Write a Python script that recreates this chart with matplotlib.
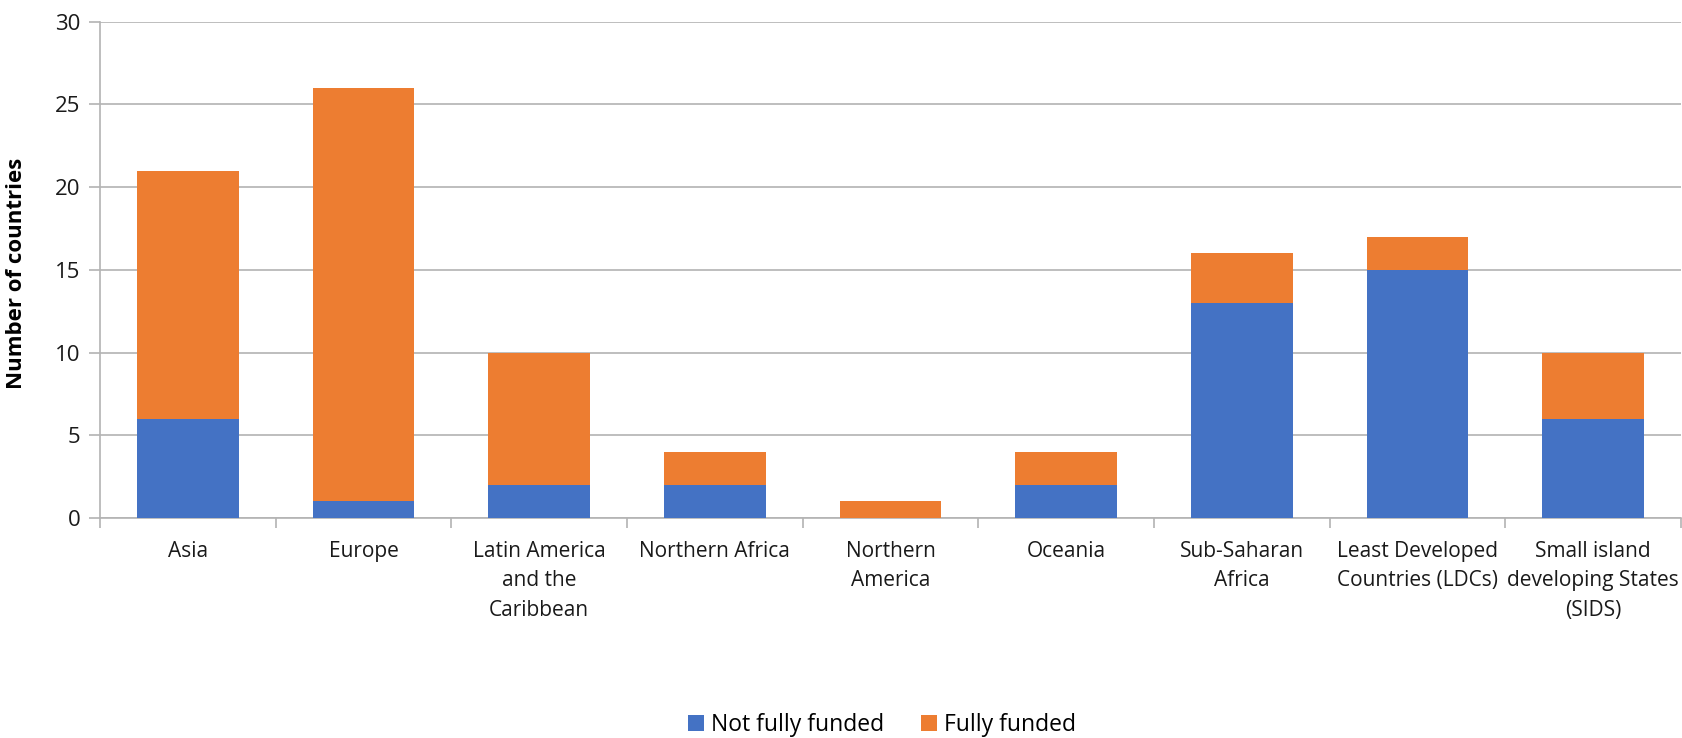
import matplotlib
matplotlib.use("Agg")
import matplotlib.pyplot as plt
import numpy as np

categories = ["Asia", "Europe", "Latin America\nand the\nCaribbean", "Northern Africa",
              "Northern\nAmerica", "Oceania", "Sub-Saharan\nAfrica",
              "Least Developed\nCountries (LDCs)", "Small island\ndeveloping States\n(SIDS)"]
not_fully_funded = [6, 1, 2, 2, 0, 2, 13, 15, 6]
fully_funded = [15, 25, 8, 2, 1, 2, 3, 2, 4]
yticks = [0, 5, 10, 15, 20, 25, 30]

plt.rcParams['font.family'] = ['Open Sans', 'DejaVu Sans']

W, H = 1683, 738
fig = plt.figure(figsize=(W/100, H/100), dpi=100)
top, bottom, left, right = 21.7, 518, 100, 1681
ax = fig.add_axes([left/W, 1-bottom/H, (right-left)/W, (bottom-top)/H])

x = np.arange(len(categories))
blue = "#4472C4"
orange = "#ED7D31"
ax.bar(x, not_fully_funded, width=0.58, color=blue, label="Not fully funded", zorder=3)
ax.bar(x, fully_funded, width=0.58, bottom=not_fully_funded, color=orange, label="Fully funded", zorder=3)

ax.set_xlim(-0.5, len(categories)-0.5)
ax.set_ylim(0, 30)
ax.set_yticks(yticks)
ax.set_yticklabels([str(v) for v in yticks], fontsize=16, color="#1a1a1a")
grid_c = "#b3b3b3"
ax.yaxis.grid(True, color=grid_c, linewidth=1.2, zorder=0)
for s in ["top", "right"]:
    ax.spines[s].set_visible(False)
ax.spines["left"].set_color(grid_c)
ax.spines["bottom"].set_color(grid_c)
ax.spines["left"].set_linewidth(1.2)
ax.spines["bottom"].set_linewidth(1.2)
ax.tick_params(axis='y', length=8, color=grid_c, width=1.2, pad=6)

# x ticks between categories
ax.set_xticks(np.arange(len(categories)+1)-0.5)
ax.set_xticklabels([])
ax.tick_params(axis='x', length=7, color=grid_c, width=1.2)
for i, c in enumerate(categories):
    ax.annotate(c, xy=(i, 0), xycoords='data', xytext=(0, -23), textcoords='offset pixels',
                ha='center', va='top', fontsize=15, color="#1a1a1a", linespacing=1.53)

ax.set_ylabel("Number of countries", fontsize=16, fontweight='bold')
ax.yaxis.set_label_coords(-(left-27)/(right-left), 1-(273-top)/(bottom-top))

fig.legend(loc='center', bbox_to_anchor=(882/W, 1-725/H), ncol=2, frameon=False,
           fontsize=16.5, handlelength=0.7, handleheight=0.7, handletextpad=0.3,
           columnspacing=1.6)

fig.savefig("out.png", dpi=100)
